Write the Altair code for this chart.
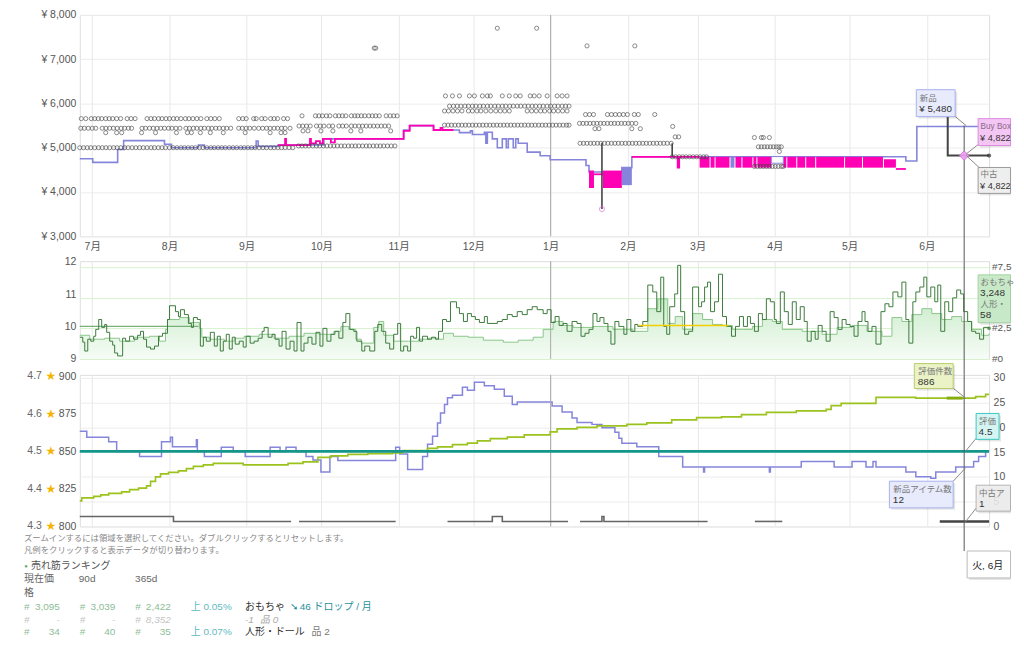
import altair as alt
import pandas as pd

# ---------------- data ----------------
START = pd.Timestamp("2025-06-26")      # left edge of time axis (day 0)
CROSS_DAY = 355                         # hover position (2026-06-16)
YEAR_START = "2026-01-01T00:00:00"
MONTHS = [(2025, 7), (2025, 8), (2025, 9), (2025, 10), (2025, 11), (2025, 12),
          (2026, 1), (2026, 2), (2026, 3), (2026, 4), (2026, 5), (2026, 6)]

new_price = [(0, 4750), (5.2, 4670), (15.2, 4960), (17.6, 5160), (34, 5080), (36.8, 5000),
             (47.6, 5060), (50, 5000), (70.8, 5150), (71.6, 5030), (79.6, 5060), (98, 5200),
             (130, 5400), (132.4, 5500), (142, 5400), (152.4, 5340), (156.8, 5380), (157.6, 5300),
             (162.4, 5350), (163, 5100), (163.6, 5350), (165.6, 5200), (167.6, 5000), (169.6, 5200),
             (171.2, 5000), (172, 5200), (174, 5000), (175, 5200), (176, 5100), (179.6, 4900),
             (184.8, 4820), (188.8, 4730), (203.2, 4600), (204.4, 4450), (217.6, 4550),
             (221.6, 4795), (331.6, 4700), (336, 5480), (365, 5480)]

buybox_segments = [
    [(79.6, 5060), (82.4, 5200), (82.8, 5060), (92.4, 5200), (92.8, 5100), (94.8, 5150),
     (96.4, 5100), (97.6, 5200), (100.8, 5120), (102.4, 5200), (130, 5380), (132.4, 5500),
     (142, 5400), (144.8, 5450), (145.6, 5400), (150, 5400)],
    [(206.4, 4400), (210, 4400)],
    [(221.6, 4795), (240, 4550), (240.6, 4795), (248.8, 4795)],
    [(327.6, 4520), (331.6, 4520)],
]
buybox_bands = [(204.4, 206.4, 4090, 4484), (210, 217.6, 4090, 4484),
                (248.8, 252.8, 4550, 4795), (253.2, 254.8, 4550, 4795), (255.2, 260.8, 4550, 4795),
                (263.2, 265.6, 4550, 4795), (266, 270, 4550, 4795), (270.4, 271.6, 4550, 4795),
                (272, 277.6, 4550, 4795), (282.4, 283.6, 4550, 4795), (284, 287.6, 4550, 4795),
                (288, 291.2, 4550, 4795), (291.6, 295.2, 4550, 4795), (295.6, 306.8, 4550, 4795),
                (307.2, 314, 4550, 4795), (314.4, 322.4, 4550, 4795), (322.8, 327.6, 4550, 4740)]
new_bands = [(217.6, 221.6, 4155, 4550), (261.2, 262.8, 4550, 4795)]
new_gap_box = [(277.6, 282.4, 4650, 4800)]

used_drops = [(209.6, 5110, 3615), (237.8, 5100, 4795)]
used_low = [(209.6, 3615)]
used_now = [(348.4, 5700), (348.4, 4822), (365, 4822)]

offer_rows = {
    5000: [0, 1.5, 3, 4.4, 6, 7.5, 9, 10.5, 12, 13.6, 15, 16.5, 18, 19.4, 21, 22.5, 24, 25.5, 27,
           28.6, 30, 31.5, 33, 34.4, 36, 37.5, 39, 40.6, 42, 43.5, 45, 46.4, 48, 49.5, 51, 52.6,
           54, 55.5, 57, 58.4, 60, 61.5, 63, 64.6, 66, 67.5, 69, 70.4, 72, 73.5, 75, 76.6, 78,
           79.5, 81, 82.4, 84, 85.5],
    5040: [87.8, 89.2, 90.6, 92, 93.5, 95, 96.3, 97.8, 99.2, 100.6, 102, 103.4, 104.9, 106.3,
           107.8, 109.2, 110.6, 112, 113.5, 115, 116.3, 117.8, 119.2, 120.6, 122, 123.5, 125, 126.5],
    5440: [0.4, 1.8, 3.4, 5, 6.4, 9, 10.5, 12, 13.5, 15, 16.6, 18, 19.5, 20.8, 25, 26.4, 28, 29.5,
           31, 32.5, 34, 35.6, 37, 38.6, 40.2, 42.6, 44, 45.6, 47, 48.6, 50, 51.6, 53, 54.6, 56,
           57.6, 59, 60.6, 63.8, 65.2, 66.8, 68.2, 70, 71.8, 73.4, 75, 76.4, 78, 79.4, 81, 82.4, 84.4],
    5490: [88, 89.5, 91, 92.5, 95, 96.5, 98, 100, 101.5, 104, 105.5, 107, 109, 110.5, 112, 113.5,
           115, 116.5, 118, 119.5, 121, 122.5, 124],
    5657: [0.6, 2.4, 4.6, 6, 7.4, 8.8, 10.4, 11.8, 13.2, 14.8, 16.4, 19, 20.6, 22.2, 27, 28.6, 30,
           31.6, 33, 34.6, 36, 37.6, 39, 40.6, 42.4, 43.8, 45.4, 47, 48.6, 51, 52.6, 54.2, 56, 63.8,
           65.4, 66.8, 69.8, 70.8, 73, 74.4, 76.6, 78, 79.4, 81.8, 83.4],
    5720: [89.2, 94.6, 96, 97.4, 99, 100.4, 102.6, 104, 105.4, 106.8, 109, 110.4, 111.6, 113,
           114.4, 116, 117.4, 118.8, 120.2, 123, 124.6, 126, 127.4],
    5340: [10.4, 14.8, 16.8, 24.8, 30.4, 38.8, 43.2, 44.8, 48.4, 52.4, 57.6, 66.4, 76.4, 80.8, 82.4],
    5380: [89.6, 91.6, 96.8, 101.6, 108.8, 112.8, 124.8],
    7250: [118.2, 118.8],
    7700: [167.6, 183.4],
    7300: [203.6, 222.8],
    6170: [146.8, 149.6, 152.4, 156.4, 158.4, 161.6, 163.6, 164.8, 169.6, 172.4, 175, 176.8, 180.8,
           182.4, 184.4, 187.6, 191.6, 193.6, 195.6],
    5940: [148.4, 150, 151.5, 153, 154.6, 156, 157.6, 159, 160.6, 162, 163.6, 165, 166.6, 168,
           169.6, 171, 172.6, 174, 175.6, 177, 178.6, 180, 181.6, 183, 184.6, 186, 187.6, 189,
           190.6, 192, 193.6, 195, 196.4],
    5830: [146.4, 148, 149.8, 151.6, 153.4, 156, 157.6, 159.4, 161, 163, 165, 167, 168.8, 170.6,
           172.4, 179.6, 181.4, 183.2, 185, 186.6, 188.6, 190.2, 192, 193.8, 195.6],
    5510: [146.4, 147.8, 149.2, 150.6, 152, 153.4, 154.8, 156.2, 157.6, 159, 160.4, 161.8, 163.2,
           164.6, 166, 167.4, 168.8, 170.2, 171.6, 173, 174.4, 175.8, 177.2, 178.6, 180, 181.4,
           182.8, 184.2, 185.6, 187, 188.4, 189.8, 191.2, 192.6, 194, 195.4, 196.4],
    5750: [203, 204.6, 206.2, 211.8, 213.4, 215, 216.6, 218.2, 219.8, 222.6, 224.2, 230.8],
    5550: [200.6, 202, 203.4, 204.8, 206.2, 207.6, 209, 210.4, 211.8, 213.2, 214.6, 216, 217.4,
           218.8, 220.2, 221.6, 223.2],
    5430: [206.8, 208.4, 221.6, 225],
    5100: [200.8, 202.2, 203.6, 205, 206.4, 207.8, 209.2, 210.6, 212, 213.4, 214.8, 216.2, 217.6,
           219, 220.4, 221.8, 223.2, 224.6, 226, 227.4, 228.8, 230.2, 231.6, 233, 234.4, 235.8, 237.4],
    4795: [237.8, 239.2, 240.6, 242, 243.4, 244.8, 246.2, 247.6, 249, 250.4, 251.6],
    5480: [238],
    5245: [239, 240.4],
    5230: [270.8, 273.6, 274.4, 276.8],
    5020: [272.4, 273.6, 274.8, 276, 277.2, 278.4, 279.6, 280.6, 281.6],
    4914: [280.8],
    4577: [270.8, 272, 273.2, 274.4, 275.6, 276.8, 278, 279.2, 280.4, 281.6, 282.4],
}

rank_main = [(0, 1773), (1.2, 1370), (2, 645), (3.2, 1612), (4.4, 1451), (5.6, 1854), (6.4, 2418),
             (7.6, 3224), (8.8, 2579), (10, 2821), (10.8, 2176), (12, 1451), (13.2, 1128), (14, 484),
             (15.2, 242), (17.2, 1693), (18.4, 1451), (20, 1854), (21.6, 1612), (23.2, 1934),
             (24.4, 2257), (25.6, 1612), (26.8, 967), (28.4, 806), (30, 1048), (31.6, 1854),
             (33.2, 2096), (35.2, 3224), (36, 4352), (38.4, 3869), (39.6, 3466), (40.4, 4030),
             (42, 3627), (43.6, 2902), (44.8, 2579), (45.6, 3385), (47.2, 3224), (48.4, 1048),
             (49.6, 1773), (50.8, 1451), (52.4, 2176), (54, 1048), (55.2, 1854), (56.4, 645),
             (57.6, 1451), (58.8, 2015), (60, 806), (61.2, 1773), (62.4, 1209), (64, 1451),
             (65.6, 967), (66.8, 1854), (68.4, 1290), (70, 1451), (71.6, 1693), (73.2, 2257),
             (74, 2579), (75.6, 1773), (77.2, 2015), (78.4, 1612), (80, 1048), (81.2, 2257),
             (82.8, 806), (84.4, 1451), (86, 645), (87.2, 2982), (88.8, 645), (90, 1290),
             (91.6, 1773), (93.2, 1209), (94.8, 2176), (96.4, 1048), (97.6, 2499), (99.2, 1451),
             (100.8, 2015), (102.4, 2257), (104, 1693), (105.6, 2982), (106.8, 3708), (108.4, 2418),
             (110, 2257), (111.2, 1451), (113.2, 645), (114.4, 1048), (116.4, 645), (118.4, 2257),
             (119.6, 2821), (121.2, 2257), (122.8, 1290), (124.4, 806), (126, 2015), (127.6, 2902),
             (128.8, 645), (130, 1048), (131.6, 645), (132.8, 1854), (134, 1693), (135.2, 2579),
             (136.4, 1451), (137.6, 1854), (139.6, 1612), (141.2, 1773), (142.8, 1612), (144, 2257),
             (145.6, 3224), (147.2, 3063), (148.8, 4675), (151.2, 4191), (152.4, 3708), (154, 3063),
             (155.6, 3708), (157.2, 3466), (158.8, 3224), (160.4, 2982), (162.4, 3466), (163.6, 2902),
             (167.6, 3063), (169.6, 3224), (171.6, 3627), (173.6, 3466), (175.6, 3869), (177.6, 3627),
             (179.6, 4030), (181.6, 4272), (183.6, 4030), (186, 3708), (187.6, 4030), (189.2, 2982),
             (190.8, 3466), (192.4, 2740), (194, 2902), (195.6, 2257), (197.6, 3063), (199.6, 2902),
             (201.2, 1854), (202.8, 2096), (204.4, 2418), (206, 3708), (207.6, 3063), (208.8, 3385),
             (210.4, 2902), (212, 2257), (213.2, 1209), (214.8, 3063), (216.4, 2660), (218.4, 2015),
             (219.6, 3224), (221.2, 2257), (222.8, 2821), (224, 2660), (226, 3063), (228, 6045),
             (230, 5481), (231.6, 3869), (233.2, 6690), (234.4, 2660), (235.6, 2015), (236.8, 4272),
             (238.8, 5320), (240, 7657), (241.2, 3869), (242.8, 2015), (244.4, 2257), (246, 5884),
             (248.4, 4272), (249.6, 4675), (250.8, 5884), (252, 6287), (253.2, 3869), (254.8, 4675),
             (256.4, 6932), (258, 3466), (259.6, 2660), (261.6, 1854), (263.2, 2660), (264.8, 3466),
             (266.4, 2660), (268, 3466), (269.2, 2902), (270.8, 2257), (272.4, 3708), (274, 3224),
             (275.6, 4917), (277.2, 4675), (278.8, 3224), (279.6, 2902), (281.2, 5481), (282.8, 3869),
             (284.4, 2821), (286, 4675), (287.6, 3224), (289.2, 4272), (290.8, 3063), (292, 1451),
             (293.6, 2257), (295.2, 1612), (296.4, 2740), (298, 2257), (299.6, 1451), (301.2, 3869),
             (302.8, 3385), (304.4, 2418), (306, 3224), (307.6, 2821), (309.2, 2660), (310.8, 1854),
             (312.4, 3063), (314, 3869), (315.2, 3063), (316.4, 2257), (318, 2660), (319.6, 1209),
             (321.6, 3869), (323.2, 4514), (324.8, 4272), (326.4, 5481), (328.4, 5078), (330, 6287),
             (331.6, 3224), (332.8, 1290), (334.4, 4675), (335.6, 5481), (337.2, 5884), (338.8, 6690),
             (340, 5078), (341.6, 5884), (343.2, 4675), (344.4, 6045), (345.6, 2257), (347.2, 4675),
             (348.8, 3869), (350.4, 4997), (352, 5642), (353.6, 5320), (354.8, 3869), (356.4, 3063),
             (358, 2257), (359.6, 2096), (361.2, 1612), (362.8, 2579), (365, 2499)]

rank_sub = [(0, 1934), (4, 1612), (10, 1693), (16, 1451), (22, 1773), (28, 1854), (32, 1451),
            (34.4, 2418), (35.2, 3224), (40, 3385), (44, 2982), (48, 2499), (49, 1773), (52, 1612),
            (58, 1451), (62, 1693), (66, 1854), (72, 2015), (78, 1693), (84, 1854), (90, 2096),
            (96, 2015), (102, 2257), (104.8, 2660), (108, 2418), (110.8, 1612), (113, 1290),
            (118, 2579), (120, 3063), (122, 1934), (126, 1451), (132, 1451), (136, 1612), (140, 1693),
            (144, 1612), (146, 2096), (150, 1854), (156, 1773), (162, 1531), (170, 1370), (176, 1531),
            (182, 1773), (186, 2418), (190, 3063), (194, 2740), (198, 2579), (206, 2660), (214, 2418),
            (222, 2257), (228, 4110), (232, 4917), (236, 2902), (239, 3466), (242, 2418), (246, 3708),
            (250, 3224), (254, 2821), (258, 2740), (262, 2418), (266, 2418), (270, 2660), (274, 3224),
            (278, 3063), (282, 2418), (290, 2257), (298, 2015), (304, 2579), (310, 2740), (316, 2257),
            (322, 1854), (326, 3385), (330, 3063), (334, 3627), (338, 4110), (342, 3708), (346, 3224),
            (350, 3466), (354, 3063), (358, 2418), (362, 1934), (365, 2096)]
rank_flat = [(0, 2660), (47.6, 2660)]
rank_yellow = [(224.4, 2740), (260.4, 2740)]
rank_ticks = [0, 2500, 5000, 7500]

reviews = [(0, 817), (0.8, 819), (5.6, 820), (8.4, 821), (11.6, 822), (16.8, 823), (20, 824.5),
           (23.6, 825.5), (26.8, 827), (28.4, 830), (30.4, 833), (32.4, 835), (35.6, 836),
           (39.6, 837), (42.8, 838.5), (45.6, 840), (49.6, 841), (53.6, 842), (65.6, 841),
           (83.6, 842), (89.6, 843), (95.6, 846), (100.8, 847), (107.6, 848), (115.6, 848.5),
           (125.6, 849), (129.6, 850.5), (139.6, 852), (143.6, 853), (149.6, 854.5), (155.6, 855.5),
           (159.6, 857), (164.8, 858.5), (171.6, 859.5), (178.4, 861), (188.8, 863), (191.6, 865),
           (199.6, 866), (207.6, 867), (219.6, 868), (227.6, 869), (237.6, 871), (247.6, 872.5),
           (257.6, 873), (265.6, 874.5), (275.6, 876), (287.6, 877), (299.6, 878), (301.6, 880.5),
           (305.6, 882), (319.6, 886), (335.6, 885.5), (359.6, 886.5), (363.6, 888), (365, 888)]
reviews_hover = [(348, 885.5), (354.4, 885.5)]
rating = [(0, 4.5), (365, 4.5)]
rating_ticks = [4.3, 4.4, 4.5, 4.6, 4.7]
new_offers = [(0, 19.2), (2.8, 18), (11.6, 17.1), (14.8, 15.1), (24, 14.1), (32.8, 17.1), (36.4, 18),
              (37.2, 16.1), (46.8, 17.5), (47.2, 15.1), (50, 14.1), (56.8, 16), (61.6, 15.1),
              (66.4, 14.1), (76.4, 16), (80.4, 15.1), (82.8, 16), (86.8, 15.1), (90.8, 14.1),
              (93.6, 13.4), (96.8, 11), (100.4, 14.1), (103.6, 13.3), (126.8, 16), (128.4, 14.6),
              (131.6, 11.5), (137.6, 14.1), (139.6, 16.6), (141.6, 18.2), (143.6, 20.9), (144.8, 22.9),
              (146.4, 24.6), (147.6, 26), (149.6, 26.5), (153.6, 28.1), (155.6, 27.5), (158.4, 29.1),
              (162.4, 28.4), (166.4, 27.7), (170.4, 26.3), (173.6, 24.6), (175.6, 25.1), (189.6, 24.3),
              (193.6, 23.1), (197.6, 21.9), (199.6, 21), (205.6, 20.6), (209.6, 19.9), (214.8, 19),
              (216.4, 17.8), (217.6, 16.8), (223.6, 16.1), (232.4, 14.1), (242, 12), (250.4, 11),
              (250.8, 12), (276.8, 11), (277.2, 12), (289.6, 13.1), (302.8, 12), (310, 13.1),
              (315.6, 12), (318.4, 13.1), (319.6, 12), (331.6, 11), (335.6, 10), (341.6, 9.7),
              (343.6, 11), (351.6, 12), (358.8, 13.1), (360.8, 14.1), (363.6, 15.1), (365, 15.1)]
used_offer_segments = [
    [(0, 2), (37.6, 1), (84.8, 1)],
    [(88, 1), (126.8, 1)],
    [(147.6, 1), (165.6, 2), (169.6, 1), (196, 1)],
    [(200.8, 1), (209.6, 2), (210.4, 1), (252, 1)],
    [(271, 1), (282, 1)],
]
used_offer_now = [(345.2, 1), (365, 1)]

hover_new, hover_buybox, hover_used = 5480, 4822, 4822
hover_rank_main, hover_rank_sub = 3248, 58
hover_reviews, hover_rating, hover_new_cnt, hover_used_cnt = 886, 4.5, 12, 1
hover_date_text = "火, 6月 16"

help_lines = ["ズームインするには領域を選択してください。ダブルクリックするとリセットします。",
              "凡例をクリックすると表示データが切り替わります。"]
rank_title = "売れ筋ランキング"
col_heads = ["現在価", "90d", "365d"]
rank_table = [
    {"now": "3,095", "d90": "3,039", "d365": "2,422", "chg": "上 0.05%", "cat": "おもちゃ", "extra": "46 ドロップ / 月"},
    {"now": "-", "d90": "-", "d365": "8,352", "chg": "", "cat": "-1", "extra": "品 0"},
    {"now": "34", "d90": "40", "d365": "35", "chg": "上 0.07%", "cat": "人形・ドール", "extra": "品 2"},
]

# ---------------- helpers ----------------
FONT = "Liberation Sans, Noto Sans CJK JP"
W, H1, H2, H3 = 912, 222, 98, 152
GAP12, GAP23 = 25, 16
ORIG = {1: (81, 12), 2: (81, 259.3), 3: (81, 373.3)}
C_NEW, C_BB, C_USED = "#8585dc", "#ff00b4", "#444444"
RIGHT_EDGE = 1015
CUT = "\u200b"   # invisible truncation marker (text is simply cut at the window edge)


def iso(d):
    return (START + pd.Timedelta(days=float(d))).strftime("%Y-%m-%dT%H:%M:%S")


def frame(pairs, cols):
    return pd.DataFrame({cols[0]: [iso(p[0]) for p in pairs], cols[1]: [p[1] for p in pairs]})


ONE = alt.Data(values=[{"k": 1}])
month_vals = [alt.DateTime(year=y, month=m, date=1) for y, m in MONTHS]
xscale = alt.Scale(domain=[alt.DateTime(year=2025, month=6, date=26),
                           alt.DateTime(year=2026, month=6, date=26)])
ax_x1 = alt.Axis(values=month_vals, labelExpr="(month(datum.value)+1) + '月'", grid=True,
                 gridColor="#e8e8e8", domain=False, ticks=False, labelColor="#555",
                 labelFontSize=10.5, labelPadding=5, title=None, labelFont=FONT)
ax_xg = alt.Axis(values=month_vals, labels=False, grid=True, gridColor="#e8e8e8",
                 domain=False, ticks=False, title=None)


def X(ax, field="date"):
    return alt.X(f"{field}:T", scale=xscale, axis=ax)


def T(p, s, px, py, size=10, color="#777", align="left", font=FONT, clip_right=False, **kw):
    ox, oy = ORIG[p]
    if clip_right:
        kw["limit"] = RIGHT_EDGE - px
        kw["ellipsis"] = CUT
    return alt.Chart(ONE).mark_text(text=s, align=align, baseline="middle", font=font,
                                    fontSize=size, color=color, **kw).encode(
        x=alt.value(px - ox), y=alt.value(py - oy))


def B(p, x1, y1, x2, y2, fill, stroke, opacity=1.0):
    ox, oy = ORIG[p]
    x2 = min(x2, RIGHT_EDGE - 0.5)
    sx = min(x2 + 2, RIGHT_EDGE)
    sh = alt.Chart(ONE).mark_rect(color="#000000", opacity=0.10).encode(
        x=alt.value(x1 - ox + 2), x2=alt.value(sx - ox),
        y=alt.value(y1 - oy + 2), y2=alt.value(y2 - oy + 2))
    bx = alt.Chart(ONE).mark_rect(fill=fill, stroke=stroke, strokeWidth=1, opacity=opacity).encode(
        x=alt.value(x1 - ox), x2=alt.value(x2 - ox), y=alt.value(y1 - oy), y2=alt.value(y2 - oy))
    return [sh, bx]


def L(p, x1, y1, x2, y2, color="#8a8a8a"):
    ox, oy = ORIG[p]
    return alt.Chart(ONE).mark_rule(color=color, strokeWidth=1).encode(
        x=alt.value(x1 - ox), x2=alt.value(x2 - ox), y=alt.value(y1 - oy), y2=alt.value(y2 - oy))


# ---------------- panel 1 : prices ----------------
pscale = alt.Scale(domain=[3000, 8000])
ax_price = alt.Axis(values=[3000, 4000, 5000, 6000, 7000, 8000],
                    labelExpr="'¥ ' + format(datum.value, ',')", grid=True, gridColor="#ececec",
                    domain=False, ticks=False, labelColor="#555", labelFontSize=10.5, labelPadding=4,
                    title=None, labelFont=FONT)


def YP(field="price"):
    return alt.Y(f"{field}:Q", scale=pscale, axis=ax_price)


def bands_df(rows):
    return pd.DataFrame({"d0": [iso(r[0]) for r in rows], "d1": [iso(r[1]) for r in rows],
                         "lo": [r[2] for r in rows], "hi": [r[3] for r in rows]})


bb_df = pd.concat([frame(s, ["date", "price"]).assign(seg=i) for i, s in enumerate(buybox_segments)])
offers_df = pd.DataFrame([{"date": iso(d), "price": p} for p, days in offer_rows.items() for d in days])
used_now_df = frame(used_now, ["date", "price"]).assign(i=range(len(used_now)))
drops_df = pd.DataFrame({"date": [iso(r[0]) for r in used_drops], "top": [r[1] for r in used_drops],
                         "price": [r[2] for r in used_drops]})
cross_df = pd.DataFrame({"date": [iso(CROSS_DAY)], "price": [hover_buybox]})
year_df = pd.DataFrame({"date": [YEAR_START]})

p1_layers = [
    alt.Chart(year_df).mark_rule(color="#a9a9a9", strokeWidth=1).encode(x=X(ax_x1)),
    alt.Chart(frame(new_price, ["date", "price"])).mark_line(
        interpolate="step-after", color=C_NEW, strokeWidth=1.6).encode(x=X(ax_x1), y=YP()),
    alt.Chart(bands_df(buybox_bands)).mark_rect(color=C_BB).encode(
        x=X(ax_x1, "d0"), x2="d1:T", y=YP("lo"), y2="hi:Q"),
    alt.Chart(bands_df(new_bands)).mark_rect(color=C_NEW).encode(
        x=X(ax_x1, "d0"), x2="d1:T", y=YP("lo"), y2="hi:Q"),
    alt.Chart(bands_df(new_gap_box)).mark_rect(fill="white", stroke=C_NEW, strokeWidth=1).encode(
        x=X(ax_x1, "d0"), x2="d1:T", y=YP("lo"), y2="hi:Q"),
    alt.Chart(bb_df).mark_line(interpolate="step-after", color=C_BB, strokeWidth=1.8).encode(
        x=X(ax_x1), y=YP(), detail="seg:N"),
    alt.Chart(offers_df).mark_point(shape="circle", filled=False, size=17, color="#444444",
                                    strokeWidth=0.9).encode(x=X(ax_x1), y=YP()),
    alt.Chart(drops_df).mark_rule(color=C_USED, strokeWidth=1.6).encode(
        x=X(ax_x1), y=YP("top"), y2="price:Q"),
    alt.Chart(frame(used_low, ["date", "price"])).mark_point(
        shape="circle", filled=False, size=26, color="#e070e0", strokeWidth=1).encode(x=X(ax_x1), y=YP()),
    alt.Chart(used_now_df).mark_line(color=C_USED, strokeWidth=2).encode(
        x=X(ax_x1), y=YP(), order="i:Q"),
    alt.Chart(frame(used_now[-1:], ["date", "price"])).mark_circle(size=18, color="#333").encode(
        x=X(ax_x1), y=YP()),
    alt.Chart(cross_df).mark_rule(color="#555", strokeWidth=1).encode(
        x=X(ax_x1), y=alt.value(111), y2=alt.value(H1 + GAP12)),
    alt.Chart(cross_df).mark_point(shape="diamond", filled=True, size=90, color="#f2a2f2",
                                   stroke="#d46ee0", strokeWidth=1, opacity=0.9).encode(x=X(ax_x1), y=YP()),
    L(1, 958, 113, 970, 123), L(1, 982, 142, 970, 151.5), L(1, 983, 165, 970, 153),
    *B(1, 920, 87, 959, 114, "#e7ebfc", "#a9b1ee"),
    T(1, "新品", 923.5, 95, 8.5),
    T(1, f"¥ {hover_new:,}", 923, 106, 9.8, "#333"),
    *B(1, 982, 116, RIGHT_EDGE, 143, "#f4c6f4", "#dd8de0"),
    T(1, "Buy Box 中古", 984.5, 124, 8.2, "#8a6a8a", clip_right=True),
    T(1, f"¥ {hover_buybox:,}", 984, 135, 9.2, "#333", clip_right=True),
    *B(1, 982, 165, RIGHT_EDGE, 191, "#eeeeee", "#9a9a9a"),
    T(1, "中古", 984.5, 172, 8.5),
    T(1, f"¥ {hover_used:,}", 984, 183.5, 9.2, "#333", clip_right=True),
]
p1 = alt.layer(*p1_layers).properties(width=W, height=H1)

# ---------------- panel 2 : sales rank ----------------
rscale = alt.Scale(domain=[0, 8000])
ax_rank = alt.Axis(orient="right", values=rank_ticks, labels=False,
                   grid=True, gridColor="#d8f3cf", domain=False, ticks=False, title=None)
green_grad = alt.Gradient(gradient="linear",
                          stops=[alt.GradientStop(color="#cbeccb", offset=0),
                                 alt.GradientStop(color="#f6fcf6", offset=1)],
                          x1=1, x2=1, y1=0, y2=1)
sub_df = frame(rank_sub, ["date", "rank"])
rank_lab_df = pd.DataFrame({"rank": rank_ticks,
                            "lab": ["" if v == 5000 else "#" + format(v, ",") for v in rank_ticks]})


def YR(axis=None):
    return alt.Y("rank:Q", scale=rscale, axis=axis)


p2_layers = [
    alt.Chart(sub_df).mark_area(interpolate="step-after", color=green_grad).encode(
        x=X(ax_xg), y=YR(ax_rank)),
    alt.Chart(year_df).mark_rule(color="#a9a9a9", strokeWidth=1).encode(x=X(ax_xg)),
    alt.Chart(pd.DataFrame({"v": [9, 12]})).mark_point(opacity=0).encode(
        x=alt.value(10),
        y=alt.Y("v:Q", scale=alt.Scale(domain=[9, 12.02]),
                axis=alt.Axis(orient="left", values=[9, 10, 11, 12], grid=False, domain=False,
                              ticks=False, labelColor="#555", labelFontSize=10.5, labelPadding=4,
                              title=None, labelFont=FONT))),
    alt.Chart(rank_lab_df).mark_text(align="left", baseline="middle", font=FONT, fontSize=10,
                                     color="#555", limit=RIGHT_EDGE - 995, ellipsis=CUT).encode(
        x=alt.value(W + 3), y=YR(), text="lab:N"),
    alt.Chart(frame(rank_flat, ["date", "rank"])).mark_line(color="#78b078", strokeWidth=1.2).encode(
        x=X(ax_xg), y=YR()),
    alt.Chart(sub_df).mark_line(interpolate="step-after", color="#8cc68c", strokeWidth=1).encode(
        x=X(ax_xg), y=YR()),
    alt.Chart(frame(rank_main, ["date", "rank"])).mark_line(
        interpolate="step-after", color="#3d7b3d", strokeWidth=1).encode(x=X(ax_xg), y=YR()),
    alt.Chart(frame(rank_yellow, ["date", "rank"])).mark_line(color="#f2cf00", strokeWidth=1.6).encode(
        x=X(ax_xg), y=YR()),
    alt.Chart(frame(rank_main[-1:], ["date", "rank"])).mark_circle(size=14, color="#3d7b3d").encode(
        x=X(ax_xg), y=YR()),
    alt.Chart(cross_df).mark_rule(color="#555", strokeWidth=1).encode(
        x=X(ax_xg), y=alt.value(0), y2=alt.value(H2 + GAP23)),
    *B(2, 982, 273, RIGHT_EDGE, 321, "#c6eac6", "#9fd09f", 0.92),
    T(2, "おもちゃ", 984.5, 280.5, 8.5),
    T(2, f"{hover_rank_main:,}", 984, 291, 10, "#333"),
    T(2, "人形・ドール", 984.5, 302.5, 8.5, clip_right=True),
    T(2, f"{hover_rank_sub}", 984, 313, 10, "#333"),
]
p2 = alt.layer(*p2_layers).resolve_scale(y="independent").properties(width=W, height=H2)

# ---------------- panel 3 : rating / reviews / offers ----------------
cscale = alt.Scale(domain=[800, 901])
oscale = alt.Scale(domain=[0, 30.6])
stscale = alt.Scale(domain=[4.3, 4.704])
ax_count = alt.Axis(orient="left", values=[800, 825, 850, 875, 900], grid=False, domain=False,
                    ticks=False, labelColor="#555", labelFontSize=10.5, labelPadding=4, title=None,
                    labelFont=FONT)
ax_off = alt.Axis(orient="right", values=[0, 5, 10, 15, 20, 25, 30], grid=True, gridColor="#ececec",
                  domain=False, ticks=False, labelColor="#555", labelFontSize=10.5, labelPadding=4,
                  title=None, labelFont=FONT)

uo_df = pd.concat([frame(s, ["date", "n"]).assign(seg=i) for i, s in enumerate(used_offer_segments)])
star_df = pd.DataFrame({"r": rating_ticks, "lab": [f"{r:.1f}" for r in rating_ticks]})

p3_layers = [
    alt.Chart(frame(new_offers, ["date", "n"])).mark_line(
        interpolate="step-after", color=C_NEW, strokeWidth=1.5).encode(
        x=X(ax_xg), y=alt.Y("n:Q", scale=oscale, axis=ax_off)),
    alt.Chart(year_df).mark_rule(color="#a9a9a9", strokeWidth=1).encode(x=X(ax_xg)),
    alt.Chart(frame(reviews, ["date", "c"])).mark_line(
        interpolate="step-after", color="#9cc21e", strokeWidth=1.6).encode(
        x=X(ax_xg), y=alt.Y("c:Q", scale=cscale, axis=ax_count)),
    alt.Chart(frame(reviews_hover, ["date", "c"])).mark_line(color="#86ad10", strokeWidth=3).encode(
        x=X(ax_xg), y=alt.Y("c:Q", scale=cscale, axis=None)),
    alt.Chart(frame(rating, ["date", "s"])).mark_line(color="#15968b", strokeWidth=3).encode(
        x=X(ax_xg), y=alt.Y("s:Q", scale=stscale, axis=None)),
    alt.Chart(uo_df).mark_line(interpolate="step-after", color="#666", strokeWidth=1.6).encode(
        x=X(ax_xg), y=alt.Y("n:Q", scale=oscale, axis=None), detail="seg:N"),
    alt.Chart(frame(used_offer_now, ["date", "n"])).mark_line(color="#444", strokeWidth=2.6).encode(
        x=X(ax_xg), y=alt.Y("n:Q", scale=oscale, axis=None)),
    alt.Chart(star_df).mark_text(align="right", baseline="middle", font=FONT, fontSize=10.5,
                                 color="#666").encode(
        x=alt.value(-38), y=alt.Y("r:Q", scale=stscale, axis=None), text="lab:N"),
    alt.Chart(star_df).mark_text(text="★", align="center", baseline="middle", fontSize=12,
                                 color="#f5b400", font="DejaVu Sans").encode(
        x=alt.value(-29), y=alt.Y("r:Q", scale=stscale, axis=None)),
    alt.Chart(cross_df).mark_rule(color="#555", strokeWidth=1).encode(
        x=X(ax_xg), y=alt.value(0), y2=alt.value(550 - ORIG[3][1])),
    L(3, 957, 386.7, 969.3, 396.5), L(3, 980, 437, 969.3, 450),
    L(3, 957, 480, 969.3, 466.7), L(3, 980, 507, 969.3, 520.7),
    *B(3, 918, 362, 957, 387, "#eaf2c6", "#b8cc6c"),
    T(3, "評価件数", 922, 369.5, 8.5),
    T(3, f"{hover_reviews}", 921.5, 380.5, 10, "#333"),
    *B(3, 980, 412, 1003, 438, "#d5f5f3", "#3cc6c0"),
    T(3, "評価", 983, 419.5, 8.5),
    T(3, f"{hover_rating}", 982.5, 430.5, 10, "#333"),
    *B(3, 893, 480, 957, 506.7, "#e7ebfc", "#a9b1ee"),
    T(3, "新品アイテム数", 897, 487.5, 8.5),
    T(3, f"{hover_new_cnt}", 896.5, 499, 10, "#333"),
    *B(3, 980, 484, RIGHT_EDGE, 510, "#eeeeee", "#aaaaaa", 0.88),
    T(3, "中古アイテム数", 983, 491.5, 8.5, clip_right=True),
    T(3, f"{hover_used_cnt}", 983, 503, 10, "#333"),
    *B(3, 971, 550, RIGHT_EDGE, 577, "#ffffff", "#bbbbbb"),
    T(3, hover_date_text, 976, 565, 10, "#222", clip_right=True),
    # text block under the chart
    T(3, help_lines[0], 25, 537, 8.4, "#888"),
    T(3, help_lines[1], 25, 548.5, 8.4, "#888"),
    T(3, "●", 27, 565, 6, "#6aaa6a", align="center"),
    T(3, rank_title, 32, 565, 10, "#555"),
    T(3, col_heads[0], 25, 578.5, 10, "#666"),
    T(3, col_heads[1], 80, 578.5, 10, "#666"),
    T(3, col_heads[2], 136.5, 578.5, 10, "#666"),
    T(3, "格", 25, 592, 10, "#666"),
]
rows_y = [606, 619, 631]
for i, row in enumerate(rank_table):
    yy = rows_y[i]
    italic = {"fontStyle": "italic"} if i == 1 else {}
    ncol = "#c4c4c4" if i == 1 else "#8dbd97"
    for hx, key, ex in [(25, "now", 61), (81, "d90", 116.7), (136.7, "d365", 172.3)]:
        p3_layers.append(T(3, "#", hx, yy, 10, ncol, **italic))
        p3_layers.append(T(3, row[key], ex, yy, 10, ncol, align="right", **italic))
    if row["chg"]:
        p3_layers.append(T(3, row["chg"], 192.3, yy, 10, "#5fb8c0"))
    if i == 0:
        p3_layers.append(T(3, row["cat"], 246.7, yy, 10, "#333"))
        p3_layers.append(T(3, "➘", 296, yy, 10, "#1f8f9a", align="center", font="DejaVu Sans"))
        p3_layers.append(T(3, row["extra"], 301.5, yy, 10, "#1f8f9a"))
    elif i == 1:
        p3_layers.append(T(3, row["cat"], 246.7, yy, 10, "#aaaaaa", **italic))
        p3_layers.append(T(3, row["extra"], 261.7, yy, 10, "#aaaaaa", **italic))
    else:
        p3_layers.append(T(3, row["cat"], 246.7, yy, 10, "#333"))
        p3_layers.append(T(3, row["extra"], 313.3, yy, 10, "#777"))

p3 = alt.layer(*p3_layers).resolve_scale(y="independent").properties(width=W, height=H3)

chart = alt.vconcat(
    p1,
    alt.vconcat(p2, p3, spacing=GAP23, bounds="flush"),
    spacing=GAP12, bounds="flush",
).properties(
    padding={"left": 15, "top": 0, "right": 0, "bottom": 0}
).configure_view(
    stroke="#6a6a6a", strokeWidth=1.2
).configure(font=FONT)

chart.save("out.html", embed_options={"renderer": "svg", "actions": False})
